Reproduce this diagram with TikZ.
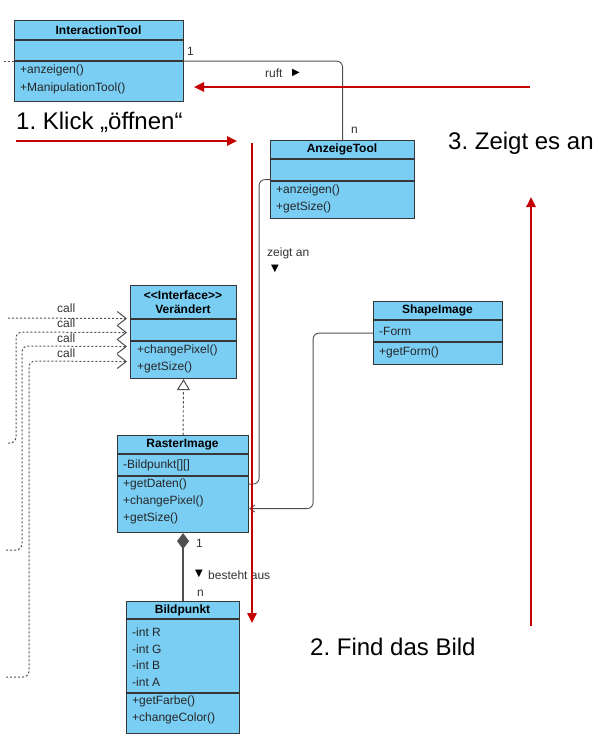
\documentclass[tikz,border=0pt]{standalone}
\usepackage{fontspec}
\setmainfont{Liberation Sans}
\newfontfamily\symfont{DejaVu Sans}
\usetikzlibrary{arrows.meta,calc}
\frenchspacing
\definecolor{boxfill}{RGB}{122,206,244}
\definecolor{boxline}{RGB}{55,55,55}
\definecolor{conn}{RGB}{80,80,80}
\definecolor{redline}{RGB}{196,0,0}
\tikzset{
  cls/.style={draw=boxline, fill=boxfill, line width=1.1pt, rectangle, inner sep=0pt, anchor=north west},
  sep/.style={draw=boxline, line width=1.1pt},
  title/.style={font=\fontsize{12}{14}\selectfont\bfseries, text=black, inner sep=0pt},
  item/.style={font=\fontsize{12}{14}\selectfont, text=black!85, anchor=west, inner sep=0pt},
  lbl/.style={font=\fontsize{12}{14}\selectfont, text=black!80, anchor=west, inner sep=0pt},
  connline/.style={draw=conn, line width=0.9pt},
  callline/.style={draw=conn, line width=1pt, dash pattern=on 2pt off 2pt},
  redarrow/.style={draw=redline, line width=2.4pt, -{Triangle[length=10pt,width=9pt]}},
  bigtext/.style={font=\fontsize{24}{28}\selectfont, text=black, anchor=base west, inner sep=0pt},
}
\begin{document}
\begin{tikzpicture}[x=1pt,y=-1pt]
\useasboundingbox (0,0) rectangle (605,747);

% InteractionTool
\node[cls, minimum width=169pt, minimum height=81pt] (it) at (14,20) {};
\draw[sep] (14,40) -- (183,40);
\draw[sep] (14,61) -- (183,61);
\node[title] (itT) at (98.5,30) {InteractionTool};
\node[item] (it1) at (20,70) {+anzeigen()};
\node[item] (it2) at (20,88) {+ManipulationTool()};

% AnzeigeTool
\node[cls, minimum width=144pt, minimum height=78pt] (at) at (270,140) {};
\draw[sep] (270,159) -- (414,159);
\draw[sep] (270,181) -- (414,181);
\node[title] (atT) at (342,149.5) {AnzeigeTool};
\node[item] (at1) at (276,190) {+anzeigen()};
\node[item] (at2) at (276,207) {+getSize()};

% Veraendert
\node[cls, minimum width=106pt, minimum height=93pt] (vi) at (130,285) {};
\draw[sep] (130,319) -- (236,319);
\draw[sep] (130,341) -- (236,341);
\node[title] (viT1) at (183,295.5) {<{}<Interface>{}>};
\node[title] (viT2) at (183,309.5) {Verändert};
\node[item] (vi1) at (137,350) {+changePixel()};
\node[item] (vi2) at (137,367) {+getSize()};

% ShapeImage
\node[cls, minimum width=129pt, minimum height=63pt] (si) at (373,301) {};
\draw[sep] (373,320) -- (502,320);
\draw[sep] (373,342) -- (502,342);
\node[title] (siT) at (437.5,310.5) {ShapeImage};
\node[item] (si1) at (379,331) {-Form};
\node[item] (si2) at (379,352) {+getForm()};

% RasterImage
\node[cls, minimum width=131pt, minimum height=97pt] (ri) at (117,435) {};
\draw[sep] (117,454) -- (248,454);
\draw[sep] (117,476) -- (248,476);
\node[title] (riT) at (182.5,444.5) {RasterImage};
\node[item] (ri1) at (123,465) {-Bildpunkt[][]};
\node[item] (ri2) at (123,484) {+getDaten()};
\node[item] (ri3) at (123,501) {+changePixel()};
\node[item] (ri4) at (123,518) {+getSize()};

% Bildpunkt
\node[cls, minimum width=113pt, minimum height=132pt] (bp) at (126,601) {};
\draw[sep] (126,619) -- (239,619);
\draw[sep] (126,693) -- (239,693);
\node[title] (bpT) at (182.5,610) {Bildpunkt};
\node[item] (bp1) at (132,632) {-int R};
\node[item] (bp2) at (132,649) {-int G};
\node[item] (bp3) at (132,665) {-int B};
\node[item] (bp4) at (132,682) {-int A};
\node[item] (bp5) at (132,701) {+getFarbe()};
\node[item] (bp6) at (132,718) {+changeColor()};

% connectors
\draw[connline, rounded corners=6pt] (it.east) -| (at.north);
\node[lbl] (one1) at (187,51) {1};
\node[lbl] (nn1) at (351,130) {n};
\node[lbl] (ruft) at (265,73) {ruft};
\node[font=\symfont\fontsize{10}{12}\selectfont, inner sep=0pt] (ruftA) at (296,73) {▶};

\draw[connline, rounded corners=6pt] (at.west) -| ($(ri.east)+(10,0)$) -- (ri.east);
\node[lbl] (zeigt) at (267,253) {zeigt an};
\node[font=\symfont\fontsize{10}{12}\selectfont, inner sep=0pt] (zeigtA) at (275,269) {▼};

\draw[connline, rounded corners=6pt, -{Straight Barb[length=5pt,width=7pt]}] (si.west) -| ($(ri.east)+(64,24.5)$) -- ($(ri.east)+(0,24.5)$);

\draw[connline, dash pattern=on 2.5pt off 2pt, -{Triangle[open,length=11pt,width=13pt,line width=1pt]}] (ri.north) -- (vi.south);

\draw[connline, line width=1.2pt, {Diamond[length=16pt,width=12pt]}-] (ri.south) -- (bp.north);
\node[lbl] (one2) at (196,543) {1};
\node[lbl] (nn2) at (197,593) {n};
\node[font=\symfont\fontsize{10}{12}\selectfont, inner sep=0pt] (bestA) at (199,574) {▼};
\node[lbl] (best) at (208,575) {besteht aus};

% left stub
\coordinate (stub) at (4,61);
\draw[callline] (stub) -- (it.west |- stub);

% call connectors
\coordinate (c1) at (8,318);
\coordinate (c2) at (8,443);
\coordinate (c3) at (6,550);
\coordinate (c4) at (6,677);
\tikzset{callarrow/.style={callline, -{Straight Barb[length=9pt,width=14pt,line width=1pt]}}}
\draw[callarrow] (c1) -- ($(vi.west)+(-3,-13.5)$);
\draw[callarrow, rounded corners=6pt] (c2) -- (16,443) -- (16,332) -- ($(vi.west)+(-3,0.5)$);
\draw[callarrow, rounded corners=6pt] (c3) -- (22,550) -- (22,346) -- ($(vi.west)+(-3,14.5)$);
\draw[callarrow, rounded corners=6pt] (c4) -- (29,677) -- (29,361) -- ($(vi.west)+(-3,29.5)$);
\node[lbl] (call1) at (57,308) {call};
\node[lbl] (call2) at (57,323) {call};
\node[lbl] (call3) at (57,338) {call};
\node[lbl] (call4) at (57,353) {call};

% red arrows and captions
\coordinate (r1a) at (530,87);
\coordinate (r1b) at (194,87);
\draw[redarrow] (r1a) -- (r1b);
\coordinate (r2a) at (16,141);
\coordinate (r2b) at (237,141);
\draw[redarrow] (r2a) -- (r2b);
\coordinate (r3a) at (252,143);
\coordinate (r3b) at (252,623);
\draw[redarrow] (r3a) -- (r3b);
\coordinate (r4a) at (531,626);
\coordinate (r4b) at (531,197);
\draw[redarrow] (r4a) -- (r4b);

\node[bigtext] (t1) at (16,129) {1. Klick „öffnen“};
\node[bigtext] (t3) at (448,149) {3. Zeigt es an};
\node[bigtext] (t2) at (310,655) {2. Find das Bild};
\end{tikzpicture}
\end{document}
